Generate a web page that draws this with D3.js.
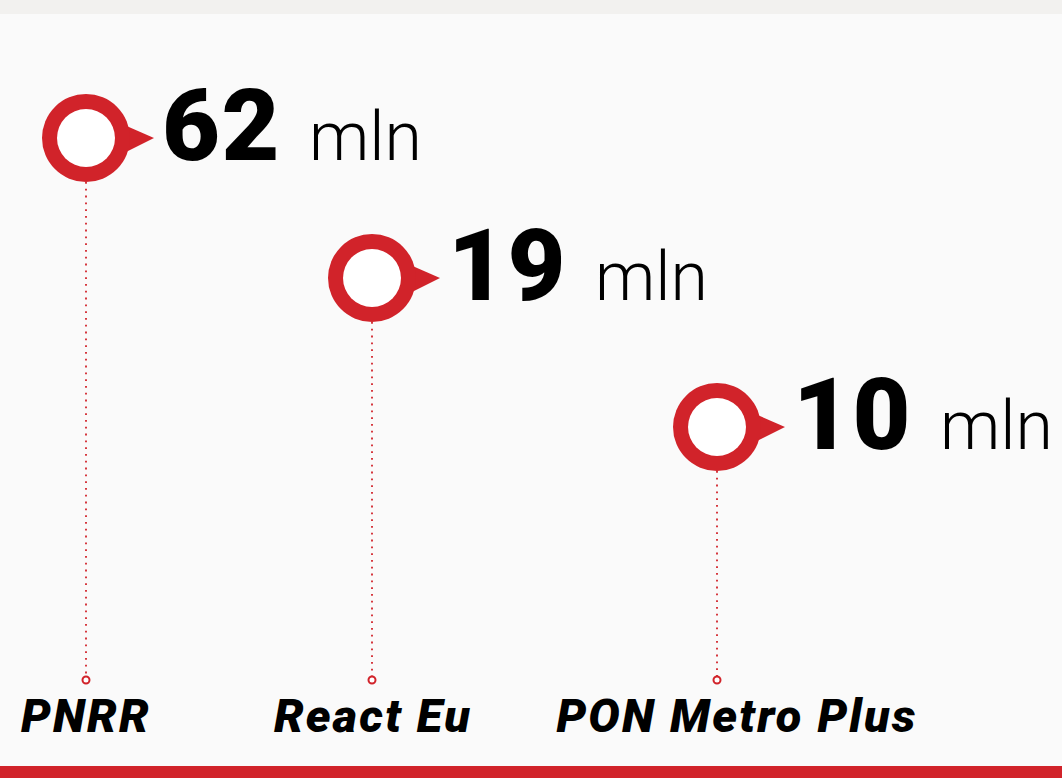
<!DOCTYPE html>
<html>
<head>
<meta charset="utf-8">
<script src="https://cdn.jsdelivr.net/npm/d3@7"></script>
<style>
	html,body{margin:0;padding:0;background:#fafafa;}
	svg{display:block;}
	.num{font-family:Roboto,'Liberation Sans',sans-serif;font-weight:900;font-size:100px;fill:#000;letter-spacing:1.5px;}
	.unit{font-family:Roboto,'Liberation Sans',sans-serif;font-weight:300;font-size:68px;fill:#000;}
	.cat{font-family:Roboto,'Liberation Sans',sans-serif;font-weight:900;font-style:italic;font-size:47px;fill:#000;letter-spacing:2.2px;}
</style>
</head>
<body>
<div id="chart"></div>
<script>
// data
var categories = ['PNRR','React Eu','PON Metro Plus'];
var values = [62,19,10];
var unitLabel = 'mln';

var W = 1062, H = 778, red = '#d1232a';

var svg = d3.select('#chart')
	.append('svg')
	.attr('width',W)
	.attr('height',H);

// page bands
svg.append('rect').attr('x',0).attr('y',0).attr('width',W).attr('height',14).attr('fill','#f2f1ef');
svg.append('rect').attr('x',0).attr('y',766).attr('width',W).attr('height',12).attr('fill',red);

var data = categories.map(function(c,i){return {cat:c,value:values[i]};});

// scales: markers step down and right, labels on a common baseline
var x = d3.scaleOrdinal().domain(categories).range([86,372,717]);
var xLabel = d3.scaleOrdinal().domain(categories).range([86,373,737]);
var y = d3.scaleOrdinal().domain(categories).range([138,278,427]);

var R = 44, r = 29, footY = 680;

var g = svg.selectAll('.item')
	.data(data).enter()
	.append('g')
		.attr('class','item');

// dotted leader
g.append('line')
	.attr('x1',function(d){return x(d.cat);})
	.attr('x2',function(d){return x(d.cat);})
	.attr('y1',function(d){return y(d.cat)+R;})
	.attr('y2',footY-4)
	.attr('stroke',red)
	.attr('stroke-width',1.8)
	.attr('stroke-dasharray','1.8,5');

g.append('circle')
	.attr('cx',function(d){return x(d.cat);})
	.attr('cy',footY)
	.attr('r',3.5)
	.attr('fill','#fff')
	.attr('stroke',red)
	.attr('stroke-width',2);

// pin marker
g.append('path')
	.attr('d',function(d){
		var cx = x(d.cat), cy = y(d.cat);
		return 'M'+(cx+36)+','+(cy-14)+'L'+(cx+68)+','+cy+'L'+(cx+36)+','+(cy+16)+'Z';})
	.attr('fill',red);
g.append('circle')
	.attr('cx',function(d){return x(d.cat);})
	.attr('cy',function(d){return y(d.cat);})
	.attr('r',R)
	.attr('fill',red);
g.append('circle')
	.attr('cx',function(d){return x(d.cat);})
	.attr('cy',function(d){return y(d.cat);})
	.attr('r',r)
	.attr('fill','#fff');

// value
var t = g.append('text')
	.attr('x',function(d){return x(d.cat)+76;})
	.attr('y',function(d){return y(d.cat)+22;});
t.append('tspan').attr('class','num').text(function(d){return d.value;});
t.append('tspan').attr('class','unit').attr('dx',28).text(unitLabel);

// category labels
g.append('text')
	.attr('class','cat')
	.attr('text-anchor','middle')
	.attr('x',function(d){return xLabel(d.cat);})
	.attr('y',732)
	.text(function(d){return d.cat;});
</script>
</body>
</html>
